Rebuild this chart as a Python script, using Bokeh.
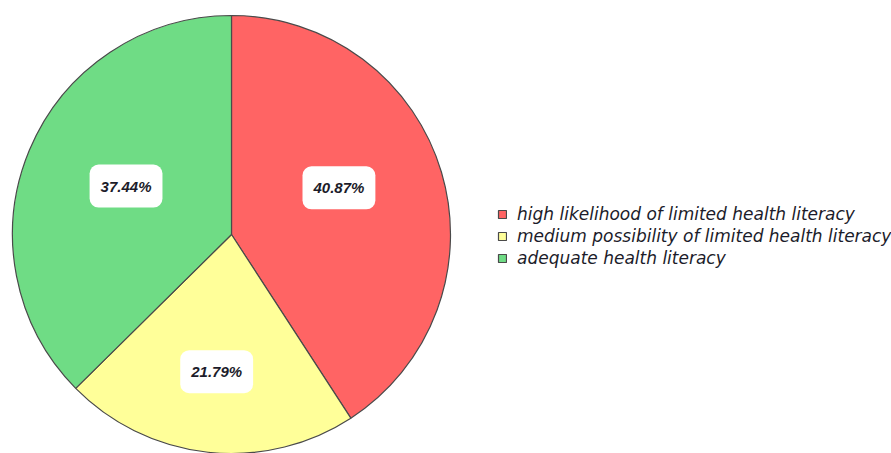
import math
from bokeh.plotting import figure
from bokeh.models import ColumnDataSource, Legend, LegendItem
from bokeh.core.properties import value
from bokeh.embed import file_html
from bokeh.resources import INLINE

# ---- data ----
categories = ["high likelihood of limited health literacy",
              "medium possibility of limited health literacy",
              "adequate health literacy"]
percents = [40.87, 21.79, 37.44]
colors = ["#FF6464", "#FFFF99", "#6FDC85"]

# ---- layout constants ----
W, H = 891, 453
CX, CY, R = 231, 219, 219
label_r = [0.535, 0.63, 0.53]
label_shift_deg = [7.0, 0.0, -2.0]

total = sum(percents)
starts, ends, lx, ly, texts = [], [], [], [], []
acc = 0.0
for i, pct in enumerate(percents):
    a0 = math.pi / 2 - 2 * math.pi * acc / total
    acc += pct
    a1 = math.pi / 2 - 2 * math.pi * acc / total
    starts.append(a0)
    ends.append(a1)
    mid = (a0 + a1) / 2 + math.radians(label_shift_deg[i])
    lx.append(CX + R * label_r[i] * math.cos(mid))
    ly.append(CY + R * label_r[i] * math.sin(mid))
    texts.append(f"{pct:.2f}%")

src = ColumnDataSource(dict(start=starts, end=ends, color=colors, cat=categories,
                            lx=lx, ly=ly, txt=texts))

p = figure(width=W, height=H, x_range=(0, W), y_range=(0, H),
           output_backend="svg", toolbar_location=None, min_border=0,
           outline_line_color=None, background_fill_color="white")
p.axis.visible = False
p.grid.visible = False

wr = p.wedge(x=CX, y=CY, radius=R, start_angle="start", end_angle="end",
             direction="clock", fill_color="color", line_color="#4a4a4a",
             line_width=1.2, source=src)

p.text(x="lx", y="ly", text="txt", source=src, text_align="center",
       text_baseline="middle", text_font=value("Liberation Sans"),
       text_font_style="bold italic", text_font_size="15px", text_color="#1c1c2a",
       background_fill_color="white", border_radius=9,
       padding=dict(left=11, right=11, top=13, bottom=13))

items = [LegendItem(label=categories[i], renderers=[wr], index=i) for i in range(len(categories))]
legend = Legend(items=items, location=(497, 185), orientation="vertical",
                label_text_font="DejaVu Sans", label_text_font_style="italic",
                label_text_font_size="17px", label_text_color="#1c1c2a",
                glyph_width=10, glyph_height=10, label_standoff=10,
                label_height=19, spacing=2, padding=0, margin=0,
                border_line_color=None, background_fill_alpha=0)
p.add_layout(legend, "center")

open("out.html", "w").write(file_html(p, INLINE))
